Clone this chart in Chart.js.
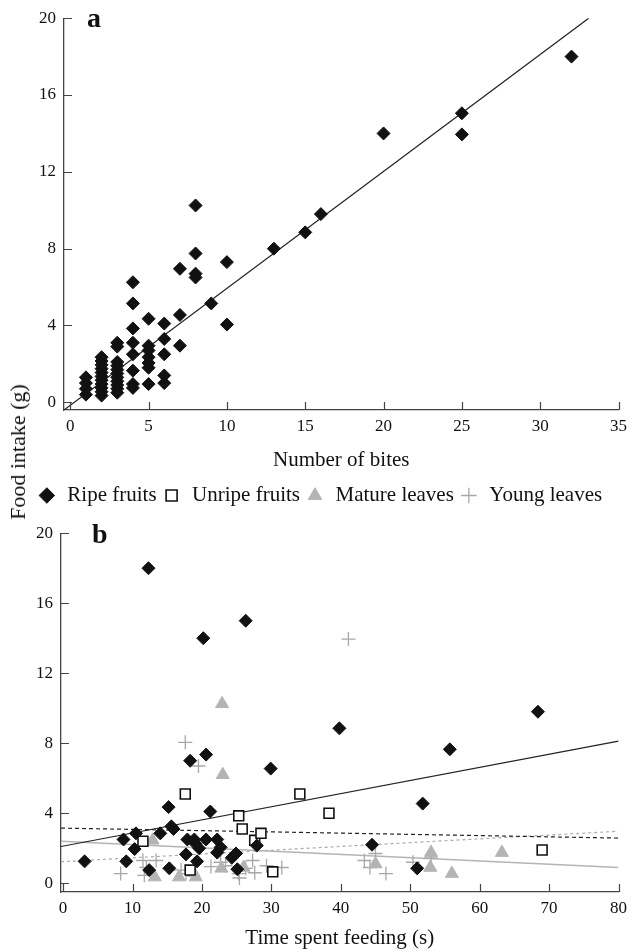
<!DOCTYPE html>
<html>
<head>
<meta charset="utf-8">
<script src="https://cdn.jsdelivr.net/npm/chart.js@4.4.1/dist/chart.umd.min.js"></script>
<style>
  body { margin: 0; background: #fff; }
  #wrap { position: relative; width: 633px; height: 952px; font-family: 'Liberation Serif', serif; color: #111; }
  #chartA { position: absolute; left: 0; top: 0; }
  #chartB { position: absolute; left: 0; top: 515px; }
  .panel { position: absolute; font-weight: bold; font-size: 28px; line-height: 28px; }
  #ytitle { position: absolute; left: 18px; top: 452px; transform: translate(-50%, -50%) rotate(-90deg); font-size: 22px; white-space: nowrap; }
</style>
</head>
<body>
<div id="wrap">
  <canvas id="chartA" width="633" height="516"></canvas>
  <canvas id="chartB" width="633" height="437"></canvas>
  <div class="panel" style="left:87px; top:4px;">a</div>
  <div class="panel" style="left:92px; top:520px;">b</div>
  <div id="ytitle">Food intake (g)</div>
</div>
<script>
// panel a: bites vs intake
const bitesA  = [1,1,1,1, 2,2,2,2,2,2,2,2,2,2,2, 3,3,3,3,3,3,3,3,3,3,3, 4,4,4,4,4,4,4,4, 5,5,5,5,5,5,5, 6,6,6,6,6, 7,7,7, 8,8,8,8, 9, 10,10, 13, 15, 16, 20, 25,25, 32];
const intakeA = [1.3,1.0,0.7,0.4, 2.35,2.15,1.95,1.75,1.55,1.35,1.15,0.95,0.75,0.55,0.35, 3.1,2.9,2.1,1.9,1.7,1.5,1.3,1.1,0.9,0.7,0.5, 6.25,5.15,3.85,3.1,2.5,1.65,0.95,0.75, 4.35,2.95,2.7,2.35,2.05,1.8,0.95, 4.1,3.3,2.5,1.4,1.0, 6.95,4.55,2.95, 10.25,7.75,6.7,6.5, 5.15, 7.3,4.05, 8.0, 8.85, 9.8, 14.0, 15.05,13.95, 18.0];
const fitAX = [-0.4, 33.1];
const fitAY = [-0.4, 20];
const xTicksA = [0, 5, 10, 15, 20, 25, 30, 35];
const yTicksA = [0, 4, 8, 12, 16, 20];

// panel b: time spent feeding vs intake
const ripeX = [3.1,8.7,9.1,10.3,10.5,12.3,12.4,14.0,15.2,15.3,15.6,15.9,17.7,17.9,18.3,18.9,19.1,19.3,19.6,20.2,20.6,20.6,21.2,22.2,22.2,22.7,24.3,24.9,25.1,26.3,27.9,29.9,39.8,44.5,51.0,51.8,55.7,68.4];
const ripeY = [1.25,2.5,1.25,1.95,2.85,18.0,0.75,2.85,4.35,0.85,3.25,3.1,1.65,2.5,7.0,2.5,2.25,1.25,2.0,14.0,7.35,2.5,4.1,2.5,1.75,2.05,1.45,1.7,0.8,15.0,2.15,6.55,8.85,2.2,0.85,4.55,7.65,9.8];
const unripeX = [11.5,17.6,18.3,25.3,25.8,27.6,28.5,30.2,34.1,38.3,69.0];
const unripeY = [2.4,5.1,0.75,3.85,3.1,2.45,2.85,0.65,5.1,4.0,1.9];
const matureX = [12.9,13.2,16.7,18.8,19.1,22.8,22.9,23.0,26.0,45.0,52.9,53.0,56.0,63.2];
const matureY = [2.45,0.35,0.35,0.6,0.35,0.85,10.25,6.2,0.9,1.1,0.9,1.75,0.55,1.75];
const youngX = [8.3,11.5,11.7,12.0,13.4,17.0,17.6,17.7,19.5,21.3,22.7,23.4,24.9,25.3,25.4,26.3,27.3,27.6,29.3,31.5,41.1,43.4,44.2,45.0,46.5,50.4,53.0];
const youngY = [0.55,1.3,0.45,0.9,1.3,0.75,8.05,0.55,6.7,0.95,1.2,1.0,1.7,0.55,0.3,0.85,1.3,0.6,1.0,0.9,13.95,1.3,0.9,1.7,0.55,1.2,1.45];
const fitBX = [-0.3, 80];
const ripeFitY = [2.1, 8.12];
const unripeFitY = [3.15, 2.58];
const matureFitY = [2.4, 0.9];
const youngFitY = [1.23, 2.97];
const xTicksB = [0, 10, 20, 30, 40, 50, 60, 70, 80];
const yTicksB = [0, 4, 8, 12, 16, 20];

Chart.defaults.font.family = "'Liberation Serif', serif";
Chart.defaults.color = '#111';

function pts(xs, ys) {
  return xs.map((x, i) => ({ x: x, y: ys[i] }));
}

// tick marks pointing into the plot, like the original
const inwardTicks = {
  id: 'inwardTicks',
  afterDatasetsDraw(chart) {
    const { ctx, scales: { x, y } } = chart;
    ctx.save();
    ctx.strokeStyle = '#444';
    ctx.lineWidth = 1.2;
    ctx.beginPath();
    x.ticks.forEach(t => {
      const p = Math.round(x.getPixelForValue(t.value)) + 0.5;
      ctx.moveTo(p, x.top);
      ctx.lineTo(p, x.top - 8);
    });
    y.ticks.forEach(t => {
      const p = Math.round(y.getPixelForValue(t.value)) + 0.5;
      ctx.moveTo(y.right, p);
      ctx.lineTo(y.right + 8, p);
    });
    ctx.stroke();
    ctx.restore();
  }
};

function axes(xMin, xMax, xTicks, yMin, yMax, yTicks, xTitle, yWidth, xHeight, titlePad) {
  return {
    x: {
      type: 'linear', min: xMin, max: xMax,
      afterBuildTicks: s => { s.ticks = xTicks.map(v => ({ value: v })); },
      afterFit: s => { s.height = xHeight; },
      grid: { display: false, drawTicks: false },
      border: { display: true, color: '#444', width: 1.3 },
      ticks: { font: { size: 17 }, color: '#111', padding: 6 },
      title: { display: true, text: xTitle, font: { size: 21 }, color: '#111', padding: { top: 0, bottom: titlePad } }
    },
    y: {
      type: 'linear', min: yMin, max: yMax,
      afterBuildTicks: s => { s.ticks = yTicks.map(v => ({ value: v })); },
      afterFit: s => { s.width = yWidth; },
      grid: { display: false, drawTicks: false },
      border: { display: true, color: '#444', width: 1.3 },
      ticks: { font: { size: 17 }, color: '#111', padding: 8 }
    }
  };
}

const chartB = new Chart(document.getElementById('chartB'), {
  type: 'scatter',
  data: {
    datasets: [
      { label: 'Ripe fruits', data: pts(ripeX, ripeY), pointStyle: 'rectRot', pointRadius: 6.5, backgroundColor: '#111', borderColor: '#111', borderWidth: 1 },
      { label: 'Unripe fruits', data: pts(unripeX, unripeY), pointStyle: 'rect', pointRadius: 7, backgroundColor: '#fff', borderColor: '#111', borderWidth: 1.6 },
      { label: 'Mature leaves', data: pts(matureX, matureY), pointStyle: 'triangle', pointRadius: 7.5, backgroundColor: '#b4b4b4', borderColor: '#b4b4b4', borderWidth: 1 },
      { label: 'Young leaves', data: pts(youngX, youngY), pointStyle: 'cross', pointRadius: 7, backgroundColor: '#a8a8a8', borderColor: '#a8a8a8', borderWidth: 1.3 },
      { type: 'line', label: 'fit ripe', data: pts(fitBX, ripeFitY), borderColor: '#222', borderWidth: 1.2, pointRadius: 0, fill: false },
      { type: 'line', label: 'fit unripe', data: pts(fitBX, unripeFitY), borderColor: '#222', borderWidth: 1.2, borderDash: [4, 3], pointRadius: 0, fill: false },
      { type: 'line', label: 'fit mature', data: pts(fitBX, matureFitY), borderColor: '#b4b4b4', borderWidth: 1.5, pointRadius: 0, fill: false },
      { type: 'line', label: 'fit young', data: pts(fitBX, youngFitY), borderColor: '#aaa', borderWidth: 1.2, borderDash: [3, 3], pointRadius: 0, fill: false }
    ]
  },
  options: {
    responsive: false,
    animation: false,
    layout: { padding: { top: 11, right: 11, left: 0, bottom: 0 } },
    plugins: {
      legend: { display: false, labels: { usePointStyle: true, color: '#111' } },
      tooltip: { enabled: false }
    },
    scales: axes(-0.3, 80, xTicksB, -0.5, 20, yTicksB, 'Time spent feeding (s)', 61, 60, 1)
  },
  plugins: [inwardTicks]
});

// the shared legend sits under panel a, its items come from panel b
const chartA = new Chart(document.getElementById('chartA'), {
  type: 'scatter',
  data: {
    datasets: [
      { label: 'Bites', data: pts(bitesA, intakeA), pointStyle: 'rectRot', pointRadius: 6.5, backgroundColor: '#111', borderColor: '#111', borderWidth: 1 },
      { type: 'line', label: 'fit', data: pts(fitAX, fitAY), borderColor: '#222', borderWidth: 1.2, pointRadius: 0, fill: false }
    ]
  },
  options: {
    responsive: false,
    animation: false,
    layout: { padding: { top: 18, right: 12, left: 18, bottom: 0 } },
    plugins: {
      legend: {
        position: 'bottom',
        onClick: null,
        labels: {
          usePointStyle: true,
          boxWidth: 20,
          boxHeight: 11,
          padding: 5,
          font: { size: 21 },
          color: '#111',
          generateLabels: () => Chart.defaults.plugins.legend.labels.generateLabels(chartB).filter(it => it.datasetIndex < 4)
        }
      },
      tooltip: { enabled: false }
    },
    scales: axes(-0.4, 35, xTicksA, -0.4, 20, yTicksA, 'Number of bites', 46, 70, 7)
  },
  plugins: [inwardTicks]
});
</script>
</body>
</html>
